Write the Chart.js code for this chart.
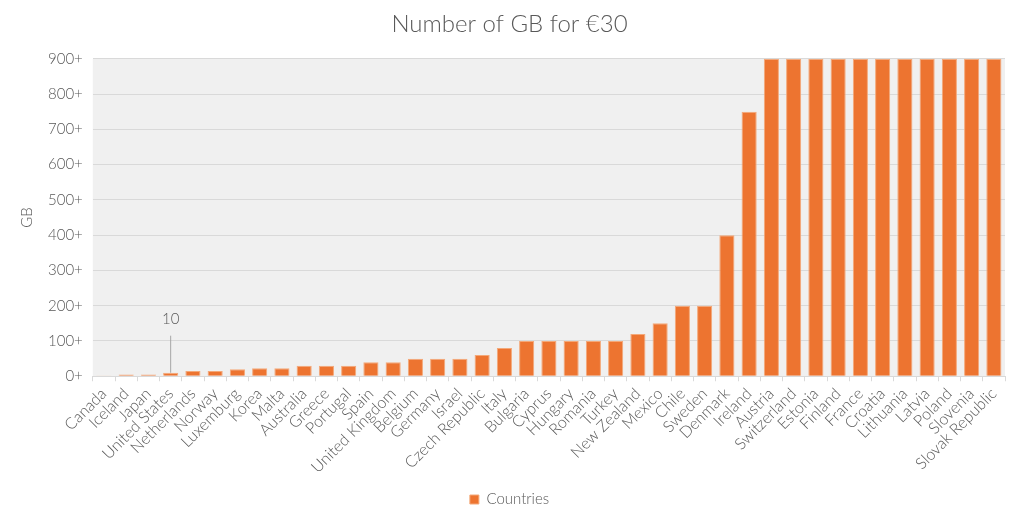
<!DOCTYPE html>
<html>
<head>
<meta charset="utf-8">
<script src="https://cdn.jsdelivr.net/npm/chart.js@4"></script>
<style>
  html, body { margin: 0; padding: 0; background: #fff; }
  #wrap { width: 1024px; height: 523px; }
</style>
</head>
<body>
<div id="wrap"><canvas id="gbChart"></canvas></div>
<script>
// Data
const countries = ['Canada', 'Iceland', 'Japan', 'United States', 'Netherlands', 'Norway',
    'Luxemburg', 'Korea', 'Malta', 'Australia', 'Greece', 'Portugal', 'Spain',
    'United Kingdom', 'Belgium', 'Germany', 'Israel', 'Czech Republic', 'Italy',
    'Bulgaria', 'Cyprus', 'Hungary', 'Romania', 'Turkey', 'New Zealand', 'Mexico',
    'Chile', 'Sweden', 'Denmark', 'Ireland', 'Austria', 'Switzerland', 'Estonia',
    'Finland', 'France', 'Croatia', 'Lithuania', 'Latvia', 'Poland', 'Slovenia',
    'Slovak Republic'];
const gbValues = [2, 5, 5, 10, 15, 15, 20, 23, 23, 30, 30, 30, 40, 40, 50, 50, 50, 60, 80,
    100, 100, 100, 100, 100, 120, 150, 200, 200, 400, 750,
    900, 900, 900, 900, 900, 900, 900, 900, 900, 900, 900];
const yTicks = [0, 100, 200, 300, 400, 500, 600, 700, 800, 900];

// Callout for the United States bar
const calloutIndex = 3;
const calloutText = '10';
const calloutTop = 115;

const textColor = '#595959';
const fontFamily = 'Lato, "Open Sans", sans-serif';

/**
 * Plot area background + callout line/label
 */
const plotDecor = {
    id: 'plotDecor',
    beforeDraw(chart) {
        const { ctx, chartArea } = chart;
        ctx.save();
        ctx.fillStyle = '#f0f0f0';
        ctx.fillRect(chartArea.left, chartArea.top,
            chartArea.right - chartArea.left, chartArea.bottom - chartArea.top);
        ctx.restore();
    },
    afterDatasetsDraw(chart) {
        const { ctx, scales } = chart;
        const x = scales.x.getPixelForValue(calloutIndex);
        const yBar = scales.y.getPixelForValue(gbValues[calloutIndex]);
        const yTop = scales.y.getPixelForValue(calloutTop);
        ctx.save();
        ctx.strokeStyle = '#a6a6a6';
        ctx.lineWidth = 1;
        ctx.beginPath();
        ctx.moveTo(x, yBar);
        ctx.lineTo(x, yTop);
        ctx.stroke();
        ctx.fillStyle = textColor;
        ctx.font = '300 15px ' + fontFamily;
        ctx.textAlign = 'center';
        ctx.textBaseline = 'bottom';
        ctx.fillText(calloutText, x, yTop - 9);
        ctx.restore();
    }
};

const ctx = document.getElementById('gbChart');
new Chart(ctx, {
    type: 'bar',
    data: {
        labels: countries,
        datasets: [{
            label: 'Countries',
            data: gbValues,
            backgroundColor: '#ed7430',
            borderColor: '#f4a878',
            borderWidth: 1,
            categoryPercentage: 1.0,
            barPercentage: 0.68
        }]
    },
    options: {
        responsive: true,
        maintainAspectRatio: false,
        animation: false,
        layout: { padding: { left: 14, right: 19, top: 4, bottom: 6 } },
        plugins: {
            title: {
                display: true,
                text: 'Number of GB for €30',
                color: textColor,
                font: { family: fontFamily, size: 24, weight: 300 },
                padding: { top: 6, bottom: 20 }
            },
            legend: {
                position: 'bottom',
                labels: {
                    color: textColor,
                    boxWidth: 9,
                    boxHeight: 9,
                    font: { family: fontFamily, size: 15, weight: 300 },
                    padding: 12
                }
            },
            tooltip: { enabled: false }
        },
        scales: {
            x: {
                grid: {
                    display: true,
                    drawOnChartArea: false,
                    color: '#d9d9d9',
                    tickLength: 5
                },
                border: { color: '#d9d9d9' },
                ticks: {
                    color: textColor,
                    font: { family: fontFamily, size: 16, weight: 300 },
                    minRotation: 45,
                    maxRotation: 45,
                    autoSkip: false,
                    padding: 3
                }
            },
            y: {
                min: 0,
                max: 900,
                afterBuildTicks(axis) {
                    axis.ticks = yTicks.map(v => ({ value: v }));
                },
                grid: { color: '#d9d9d9', drawTicks: false },
                border: { display: false },
                ticks: {
                    color: textColor,
                    font: { family: fontFamily, size: 15, weight: 300 },
                    padding: 10,
                    callback: v => v + '+'
                },
                title: {
                    display: true,
                    text: 'GB',
                    color: textColor,
                    font: { family: fontFamily, size: 15, weight: 300 },
                    padding: { top: 4, bottom: 2 }
                }
            }
        }
    },
    plugins: [plotDecor]
});
</script>
</body>
</html>
